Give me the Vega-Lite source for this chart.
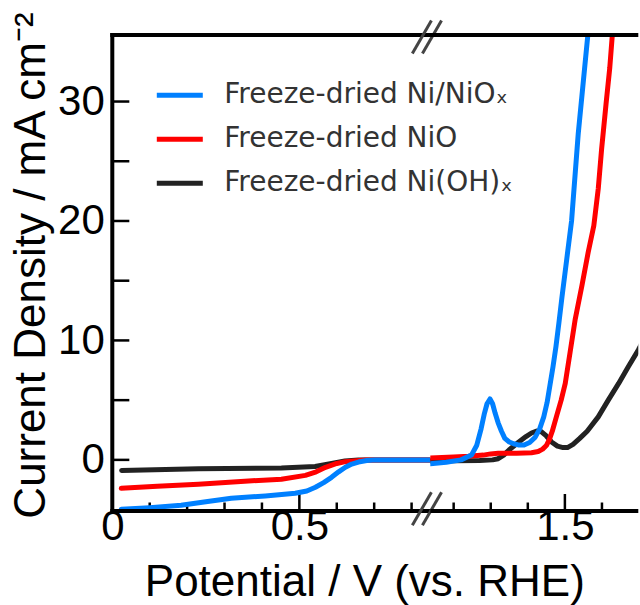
{
  "$schema": "https://vega.github.io/schema/vega-lite/v6.json",
  "background": "white",
  "padding": {"left": 8.3, "top": 10, "right": 0, "bottom": 0},
  "autosize": {"type": "pad"},
  "bounds": "flush",
  "spacing": 0,
  "config": {
    "view": {"stroke": null},
    "axis": {"grid": false, "domain": false, "ticks": false, "labelFont": "Liberation Sans", "labelFontSize": 42, "labelColor": "black", "labelFlush": false, "labelOverlap": false, "titleFont": "Liberation Sans", "titleFontSize": 44, "titleFontWeight": "normal", "titleColor": "black"}
  },
  "datasets": {
    "curves": [
      {"s": "Freeze-dried Ni/NiOₓ", "V": 0.024, "j": -4.13},
      {"s": "Freeze-dried Ni/NiOₓ", "V": 0.1, "j": -4.0},
      {"s": "Freeze-dried Ni/NiOₓ", "V": 0.184, "j": -3.8},
      {"s": "Freeze-dried Ni/NiOₓ", "V": 0.25, "j": -3.5},
      {"s": "Freeze-dried Ni/NiOₓ", "V": 0.318, "j": -3.21},
      {"s": "Freeze-dried Ni/NiOₓ", "V": 0.409, "j": -3.02},
      {"s": "Freeze-dried Ni/NiOₓ", "V": 0.489, "j": -2.8},
      {"s": "Freeze-dried Ni/NiOₓ", "V": 0.52, "j": -2.6},
      {"s": "Freeze-dried Ni/NiOₓ", "V": 0.543, "j": -2.29},
      {"s": "Freeze-dried Ni/NiOₓ", "V": 0.565, "j": -1.9},
      {"s": "Freeze-dried Ni/NiOₓ", "V": 0.586, "j": -1.46},
      {"s": "Freeze-dried Ni/NiOₓ", "V": 0.605, "j": -1.0},
      {"s": "Freeze-dried Ni/NiOₓ", "V": 0.623, "j": -0.62},
      {"s": "Freeze-dried Ni/NiOₓ", "V": 0.64, "j": -0.35},
      {"s": "Freeze-dried Ni/NiOₓ", "V": 0.658, "j": -0.18},
      {"s": "Freeze-dried Ni/NiOₓ", "V": 0.68, "j": -0.05},
      {"s": "Freeze-dried Ni/NiOₓ", "V": 0.703, "j": 0.0},
      {"s": "Freeze-dried Ni/NiOₓ", "V": 0.78, "j": 0.0},
      {"s": "Freeze-dried Ni/NiOₓ", "V": 0.85, "j": 0.0},
      {"s": "Freeze-dried Ni/NiOₓ", "V": 1.137, "j": -0.33},
      {"s": "Freeze-dried Ni/NiOₓ", "V": 1.18, "j": -0.2},
      {"s": "Freeze-dried Ni/NiOₓ", "V": 1.22, "j": 0.0},
      {"s": "Freeze-dried Ni/NiOₓ", "V": 1.248, "j": 0.4},
      {"s": "Freeze-dried Ni/NiOₓ", "V": 1.262, "j": 1.2},
      {"s": "Freeze-dried Ni/NiOₓ", "V": 1.274, "j": 2.6},
      {"s": "Freeze-dried Ni/NiOₓ", "V": 1.283, "j": 3.9},
      {"s": "Freeze-dried Ni/NiOₓ", "V": 1.29, "j": 4.7},
      {"s": "Freeze-dried Ni/NiOₓ", "V": 1.298, "j": 5.1},
      {"s": "Freeze-dried Ni/NiOₓ", "V": 1.305, "j": 4.7},
      {"s": "Freeze-dried Ni/NiOₓ", "V": 1.312, "j": 3.9},
      {"s": "Freeze-dried Ni/NiOₓ", "V": 1.32, "j": 3.1},
      {"s": "Freeze-dried Ni/NiOₓ", "V": 1.329, "j": 2.4},
      {"s": "Freeze-dried Ni/NiOₓ", "V": 1.338, "j": 1.8},
      {"s": "Freeze-dried Ni/NiOₓ", "V": 1.35, "j": 1.5},
      {"s": "Freeze-dried Ni/NiOₓ", "V": 1.362, "j": 1.35},
      {"s": "Freeze-dried Ni/NiOₓ", "V": 1.374, "j": 1.25},
      {"s": "Freeze-dried Ni/NiOₓ", "V": 1.39, "j": 1.25},
      {"s": "Freeze-dried Ni/NiOₓ", "V": 1.405, "j": 1.45},
      {"s": "Freeze-dried Ni/NiOₓ", "V": 1.42, "j": 1.9},
      {"s": "Freeze-dried Ni/NiOₓ", "V": 1.432, "j": 2.6},
      {"s": "Freeze-dried Ni/NiOₓ", "V": 1.443, "j": 3.6},
      {"s": "Freeze-dried Ni/NiOₓ", "V": 1.452, "j": 4.8},
      {"s": "Freeze-dried Ni/NiOₓ", "V": 1.46, "j": 6.3},
      {"s": "Freeze-dried Ni/NiOₓ", "V": 1.468, "j": 7.8},
      {"s": "Freeze-dried Ni/NiOₓ", "V": 1.476, "j": 9.5},
      {"s": "Freeze-dried Ni/NiOₓ", "V": 1.484, "j": 11.5},
      {"s": "Freeze-dried Ni/NiOₓ", "V": 1.492, "j": 13.6},
      {"s": "Freeze-dried Ni/NiOₓ", "V": 1.505, "j": 16.8},
      {"s": "Freeze-dried Ni/NiOₓ", "V": 1.518, "j": 20.0},
      {"s": "Freeze-dried Ni/NiOₓ", "V": 1.536, "j": 27.3},
      {"s": "Freeze-dried Ni/NiOₓ", "V": 1.562, "j": 35.6},
      {"s": "Freeze-dried Ni/NiOₓ", "V": 1.567, "j": 38.0},
      {"s": "Freeze-dried NiO", "V": 0.024, "j": -2.38},
      {"s": "Freeze-dried NiO", "V": 0.12, "j": -2.2},
      {"s": "Freeze-dried NiO", "V": 0.23, "j": -2.04},
      {"s": "Freeze-dried NiO", "V": 0.364, "j": -1.77},
      {"s": "Freeze-dried NiO", "V": 0.452, "j": -1.62},
      {"s": "Freeze-dried NiO", "V": 0.516, "j": -1.3},
      {"s": "Freeze-dried NiO", "V": 0.545, "j": -1.0},
      {"s": "Freeze-dried NiO", "V": 0.57, "j": -0.62},
      {"s": "Freeze-dried NiO", "V": 0.6, "j": -0.3},
      {"s": "Freeze-dried NiO", "V": 0.623, "j": -0.15},
      {"s": "Freeze-dried NiO", "V": 0.676, "j": 0.0},
      {"s": "Freeze-dried NiO", "V": 0.85, "j": 0.0},
      {"s": "Freeze-dried NiO", "V": 1.137, "j": 0.16},
      {"s": "Freeze-dried NiO", "V": 1.2, "j": 0.25},
      {"s": "Freeze-dried NiO", "V": 1.24, "j": 0.3},
      {"s": "Freeze-dried NiO", "V": 1.28, "j": 0.4},
      {"s": "Freeze-dried NiO", "V": 1.3, "j": 0.5},
      {"s": "Freeze-dried NiO", "V": 1.32, "j": 0.55},
      {"s": "Freeze-dried NiO", "V": 1.37, "j": 0.55},
      {"s": "Freeze-dried NiO", "V": 1.41, "j": 0.6},
      {"s": "Freeze-dried NiO", "V": 1.428, "j": 0.7},
      {"s": "Freeze-dried NiO", "V": 1.44, "j": 0.9},
      {"s": "Freeze-dried NiO", "V": 1.45, "j": 1.2},
      {"s": "Freeze-dried NiO", "V": 1.458, "j": 1.7},
      {"s": "Freeze-dried NiO", "V": 1.466, "j": 2.4},
      {"s": "Freeze-dried NiO", "V": 1.477, "j": 3.6},
      {"s": "Freeze-dried NiO", "V": 1.49, "j": 5.0},
      {"s": "Freeze-dried NiO", "V": 1.501, "j": 6.4},
      {"s": "Freeze-dried NiO", "V": 1.514, "j": 9.0},
      {"s": "Freeze-dried NiO", "V": 1.528, "j": 11.8},
      {"s": "Freeze-dried NiO", "V": 1.546, "j": 14.6},
      {"s": "Freeze-dried NiO", "V": 1.563, "j": 17.4},
      {"s": "Freeze-dried NiO", "V": 1.578, "j": 19.6},
      {"s": "Freeze-dried NiO", "V": 1.59, "j": 22.7},
      {"s": "Freeze-dried NiO", "V": 1.599, "j": 26.0},
      {"s": "Freeze-dried NiO", "V": 1.611, "j": 29.8},
      {"s": "Freeze-dried NiO", "V": 1.621, "j": 32.8},
      {"s": "Freeze-dried NiO", "V": 1.628, "j": 35.6},
      {"s": "Freeze-dried NiO", "V": 1.632, "j": 38.0},
      {"s": "Freeze-dried Ni(OH)ₓ", "V": 0.025, "j": -0.88},
      {"s": "Freeze-dried Ni(OH)ₓ", "V": 0.23, "j": -0.74},
      {"s": "Freeze-dried Ni(OH)ₓ", "V": 0.452, "j": -0.68},
      {"s": "Freeze-dried Ni(OH)ₓ", "V": 0.542, "j": -0.56},
      {"s": "Freeze-dried Ni(OH)ₓ", "V": 0.586, "j": -0.31},
      {"s": "Freeze-dried Ni(OH)ₓ", "V": 0.622, "j": -0.09},
      {"s": "Freeze-dried Ni(OH)ₓ", "V": 0.658, "j": 0.0},
      {"s": "Freeze-dried Ni(OH)ₓ", "V": 0.85, "j": 0.0},
      {"s": "Freeze-dried Ni(OH)ₓ", "V": 1.137, "j": -0.1},
      {"s": "Freeze-dried Ni(OH)ₓ", "V": 1.2, "j": -0.08},
      {"s": "Freeze-dried Ni(OH)ₓ", "V": 1.27, "j": -0.05},
      {"s": "Freeze-dried Ni(OH)ₓ", "V": 1.305, "j": 0.0},
      {"s": "Freeze-dried Ni(OH)ₓ", "V": 1.32, "j": 0.1},
      {"s": "Freeze-dried Ni(OH)ₓ", "V": 1.335, "j": 0.4},
      {"s": "Freeze-dried Ni(OH)ₓ", "V": 1.35, "j": 0.85},
      {"s": "Freeze-dried Ni(OH)ₓ", "V": 1.374, "j": 1.45},
      {"s": "Freeze-dried Ni(OH)ₓ", "V": 1.395, "j": 1.95},
      {"s": "Freeze-dried Ni(OH)ₓ", "V": 1.41, "j": 2.25},
      {"s": "Freeze-dried Ni(OH)ₓ", "V": 1.424, "j": 2.42},
      {"s": "Freeze-dried Ni(OH)ₓ", "V": 1.437, "j": 2.35},
      {"s": "Freeze-dried Ni(OH)ₓ", "V": 1.45, "j": 2.0},
      {"s": "Freeze-dried Ni(OH)ₓ", "V": 1.464, "j": 1.5},
      {"s": "Freeze-dried Ni(OH)ₓ", "V": 1.48, "j": 1.15},
      {"s": "Freeze-dried Ni(OH)ₓ", "V": 1.495, "j": 1.03},
      {"s": "Freeze-dried Ni(OH)ₓ", "V": 1.507, "j": 1.03},
      {"s": "Freeze-dried Ni(OH)ₓ", "V": 1.522, "j": 1.3},
      {"s": "Freeze-dried Ni(OH)ₓ", "V": 1.54, "j": 1.8},
      {"s": "Freeze-dried Ni(OH)ₓ", "V": 1.56, "j": 2.4},
      {"s": "Freeze-dried Ni(OH)ₓ", "V": 1.59, "j": 3.6},
      {"s": "Freeze-dried Ni(OH)ₓ", "V": 1.617, "j": 5.0},
      {"s": "Freeze-dried Ni(OH)ₓ", "V": 1.645, "j": 6.4},
      {"s": "Freeze-dried Ni(OH)ₓ", "V": 1.671, "j": 7.8},
      {"s": "Freeze-dried Ni(OH)ₓ", "V": 1.698, "j": 9.2},
      {"s": "Freeze-dried Ni(OH)ₓ", "V": 1.71, "j": 9.9}
    ]
  },
  "resolve": {"scale": {"color": "independent"}, "legend": {"color": "independent"}},
  "hconcat": [
    {
      "width": 318,
      "height": 476,
      "resolve": {"axis": {"x": "independent", "y": "independent"}},
      "layer": [
        {
          "data": {"values": [{"t": 0.1}, {"t": 0.2}, {"t": 0.3}, {"t": 0.4}, {"t": 0.6}, {"t": 0.7}, {"t": 0.8}]},
          "mark": {"type": "rule", "color": "#000000", "strokeWidth": 2.5},
          "encoding": {"x": {"field": "t", "type": "quantitative", "axis": null}, "y": {"datum": -4.28, "axis": null}, "y2": {"datum": -3.569}}
        },
        {
          "data": {"values": [{"t": 0.5}]},
          "mark": {"type": "rule", "color": "#000000", "strokeWidth": 2.5},
          "encoding": {"x": {"field": "t", "type": "quantitative", "axis": null}, "y": {"datum": -4.28, "axis": null}, "y2": {"datum": -2.857}}
        },
        {
          "data": {"values": [{"t": 0}, {"t": 5}, {"t": 10}, {"t": 15}, {"t": 20}, {"t": 25}, {"t": 30}]},
          "mark": {"type": "rule", "color": "#000000", "strokeWidth": 2.5},
          "encoding": {"y": {"field": "t", "type": "quantitative", "axis": null}, "x": {"datum": 0, "axis": null}, "x2": {"datum": 0.0455}}
        },
        {
          "data": {"name": "curves"},
          "transform": [{"filter": "datum.V < 1 && datum.s == 'Freeze-dried Ni(OH)ₓ'"}],
          "mark": {"type": "line", "strokeWidth": 5, "clip": true, "strokeCap": "round", "strokeJoin": "round"},
          "encoding": {
            "x": {"field": "V", "type": "quantitative", "scale": {"domain": [0, 0.85], "nice": false, "zero": false},
              "axis": {"orient": "bottom", "values": [0, 0.5], "format": "~g", "ticks": false, "domain": false,
                "labelPadding": -4, "labelFlush": false, "labelOverlap": false,
                "title": "Potential / V (vs. RHE)", "titleX": 252, "titleY": 85, "titleAlign": "center", "titleBaseline": "alphabetic"}},
            "y": {"field": "j", "type": "quantitative", "scale": {"domain": [-4.28, 35.57], "nice": false, "zero": false},
              "axis": {"orient": "left", "values": [0, 10, 20, 30], "ticks": false, "domain": false,
                "labelPadding": 8, "labelOverlap": false,
                "title": "Current Density / mA cm⁻²", "titleX": -68, "titleY": 230, "titleAngle": -90, "titleAlign": "center", "titleBaseline": "alphabetic"}},
            "color": {"field": "s", "type": "nominal",
              "scale": {"domain": ["Freeze-dried Ni/NiOₓ", "Freeze-dried NiO", "Freeze-dried Ni(OH)ₓ"], "range": ["#0080ff", "#ff0000", "#222222"]},
              "legend": {"orient": "none", "legendX": 42, "legendY": 34.7, "title": null, "padding": 0, "symbolType": "stroke", "symbolStrokeWidth": 5, "symbolSize": 2116, "labelFont": "DejaVu Sans", "labelFontSize": 28, "labelColor": "#333333", "labelOffset": 19, "labelLimit": 0, "rowPadding": 4}}
          }
        },
        {
          "data": {"name": "curves"},
          "transform": [{"filter": "datum.V < 1 && datum.s == 'Freeze-dried NiO'"}],
          "mark": {"type": "line", "strokeWidth": 5, "clip": true, "strokeCap": "round", "strokeJoin": "round"},
          "encoding": {
            "x": {"field": "V", "type": "quantitative", "axis": null},
            "y": {"field": "j", "type": "quantitative", "axis": null},
            "color": {"field": "s", "type": "nominal"}
          }
        },
        {
          "data": {"name": "curves"},
          "transform": [{"filter": "datum.V < 1 && datum.s == 'Freeze-dried Ni/NiOₓ'"}],
          "mark": {"type": "line", "strokeWidth": 5, "clip": true, "strokeCap": "round", "strokeJoin": "round"},
          "encoding": {
            "x": {"field": "V", "type": "quantitative", "axis": null},
            "y": {"field": "j", "type": "quantitative", "axis": null},
            "color": {"field": "s", "type": "nominal"}
          }
        },
        {
          "data": {"values": [{}]},
          "mark": {"type": "rule", "color": "black", "strokeWidth": 4, "strokeCap": "square"},
          "encoding": {"y": {"datum": 35.57, "axis": null}}
        },
        {
          "data": {"values": [{}]},
          "mark": {"type": "rule", "color": "black", "strokeWidth": 4, "strokeCap": "square"},
          "encoding": {"y": {"datum": -4.28, "axis": null}}
        },
        {
          "data": {"values": [{}]},
          "mark": {"type": "rule", "color": "black", "strokeWidth": 4, "strokeCap": "square"},
          "encoding": {"x": {"datum": 0, "axis": null}}
        },
        {
          "data": {"values": [{}]},
          "mark": {"type": "rule", "color": "#444444", "strokeWidth": 3},
          "encoding": {"x": {"datum": 0.802, "axis": null}, "x2": {"datum": 0.853}, "y": {"datum": -5.47, "axis": null}, "y2": {"datum": -2.71}}
        },
        {
          "data": {"values": [{}]},
          "mark": {"type": "rule", "color": "#444444", "strokeWidth": 3},
          "encoding": {"x": {"datum": 0.829, "axis": null}, "x2": {"datum": 0.88}, "y": {"datum": -5.47, "axis": null}, "y2": {"datum": -2.71}}
        },
        {
          "data": {"values": [{}]},
          "mark": {"type": "rule", "color": "#444444", "strokeWidth": 3},
          "encoding": {"x": {"datum": 0.802, "axis": null}, "x2": {"datum": 0.853}, "y": {"datum": 34.03, "axis": null}, "y2": {"datum": 36.79}}
        },
        {
          "data": {"values": [{}]},
          "mark": {"type": "rule", "color": "#444444", "strokeWidth": 3},
          "encoding": {"x": {"datum": 0.829, "axis": null}, "x2": {"datum": 0.88}, "y": {"datum": 34.03, "axis": null}, "y2": {"datum": 36.79}}
        }
      ]
    },
    {
      "width": 208,
      "height": 476,
      "resolve": {"axis": {"x": "independent", "y": "independent"}},
      "layer": [
        {
          "data": {"values": [{"t": 1.2}, {"t": 1.3}, {"t": 1.4}, {"t": 1.6}]},
          "mark": {"type": "rule", "color": "#000000", "strokeWidth": 2.5},
          "encoding": {"x": {"field": "t", "type": "quantitative", "axis": null}, "y": {"datum": -4.28, "axis": null}, "y2": {"datum": -3.569}}
        },
        {
          "data": {"values": [{"t": 1.5}]},
          "mark": {"type": "rule", "color": "#000000", "strokeWidth": 2.5},
          "encoding": {"x": {"field": "t", "type": "quantitative", "axis": null}, "y": {"datum": -4.28, "axis": null}, "y2": {"datum": -2.857}}
        },
        {
          "data": {"name": "curves"},
          "transform": [{"filter": "datum.V > 1 && datum.s == 'Freeze-dried Ni(OH)ₓ'"}],
          "mark": {"type": "line", "strokeWidth": 5, "clip": true, "strokeCap": "round", "strokeJoin": "round", "color": "#222222"},
          "encoding": {
            "x": {"field": "V", "type": "quantitative", "scale": {"domain": [1.137, 1.698], "nice": false, "zero": false},
              "axis": {"orient": "bottom", "values": [1.5], "format": "~g", "ticks": false, "domain": false,
                "labelPadding": -4, "labelFlush": false, "labelOverlap": false, "title": null}},
            "y": {"field": "j", "type": "quantitative", "scale": {"domain": [-4.28, 35.57], "nice": false, "zero": false}, "axis": null}
          }
        },
        {
          "data": {"name": "curves"},
          "transform": [{"filter": "datum.V > 1 && datum.s == 'Freeze-dried NiO'"}],
          "mark": {"type": "line", "strokeWidth": 5, "clip": true, "strokeCap": "round", "strokeJoin": "round", "color": "#ff0000"},
          "encoding": {
            "x": {"field": "V", "type": "quantitative", "axis": null},
            "y": {"field": "j", "type": "quantitative", "axis": null}
          }
        },
        {
          "data": {"name": "curves"},
          "transform": [{"filter": "datum.V > 1 && datum.s == 'Freeze-dried Ni/NiOₓ'"}],
          "mark": {"type": "line", "strokeWidth": 5, "clip": true, "strokeCap": "round", "strokeJoin": "round", "color": "#0080ff"},
          "encoding": {
            "x": {"field": "V", "type": "quantitative", "axis": null},
            "y": {"field": "j", "type": "quantitative", "axis": null}
          }
        },
        {
          "data": {"values": [{}]},
          "mark": {"type": "rule", "color": "black", "strokeWidth": 4},
          "encoding": {"y": {"datum": 35.57, "axis": null}}
        },
        {
          "data": {"values": [{}]},
          "mark": {"type": "rule", "color": "black", "strokeWidth": 4},
          "encoding": {"y": {"datum": -4.28, "axis": null}}
        }
      ]
    }
  ]
}
